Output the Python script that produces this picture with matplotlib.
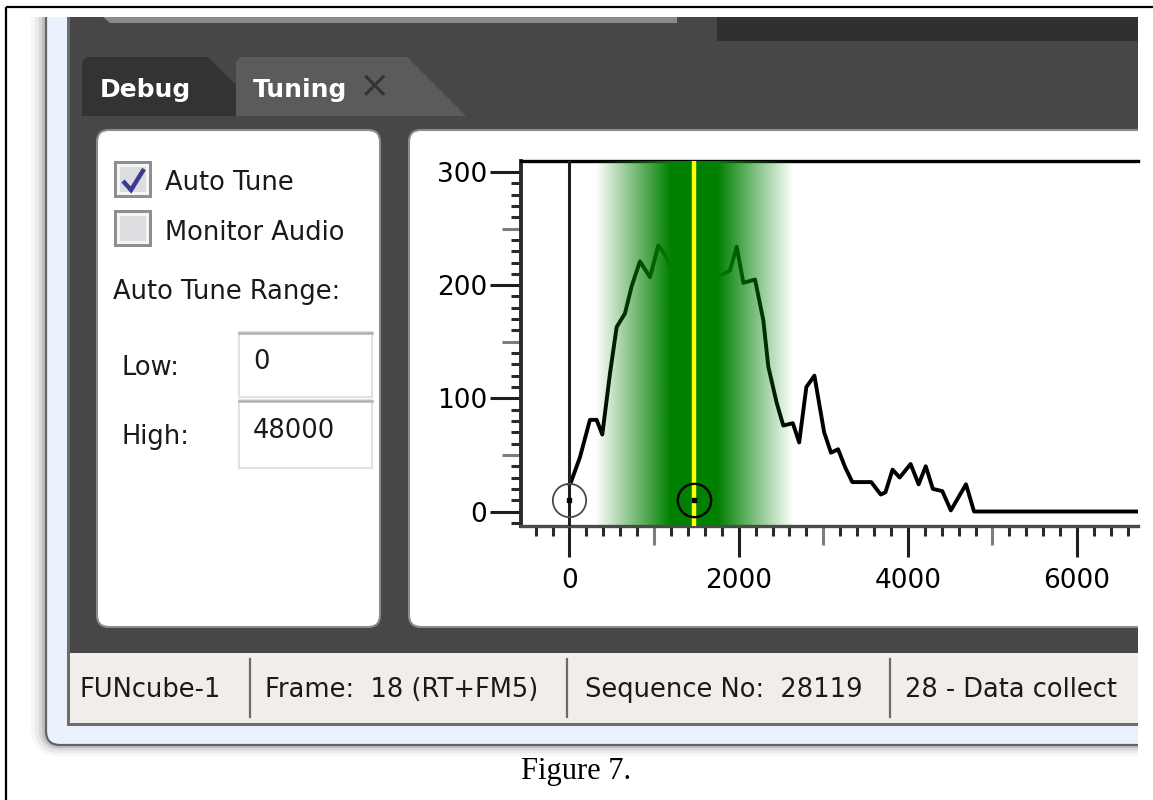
import numpy as np
import matplotlib
matplotlib.use("Agg")
import matplotlib.pyplot as plt
from matplotlib.patches import Rectangle, FancyBboxPatch, Polygon
from matplotlib.ticker import FixedLocator, MultipleLocator, FuncFormatter
from matplotlib.transforms import TransformedBbox, Bbox

# ---------------- data ----------------
freq = [0, 18, 124, 242, 321, 388, 479, 558, 656, 735, 833, 952, 1050, 1129, 1208,
        1300, 1400, 1500, 1600, 1700, 1799, 1897, 1976, 2055, 2193, 2291, 2350, 2449,
        2527, 2640, 2715, 2800, 2895, 3010, 3091, 3175, 3259, 3343, 3567, 3679, 3735,
        3819, 3903, 4032, 4127, 4211, 4295, 4407, 4508, 4687, 4782, 7000]
level = [24, 26, 48, 81, 81, 68, 122, 163, 175, 199, 221, 207, 235, 227, 215,
         222, 228, 224, 216, 210, 209, 213, 234, 202, 205, 169, 128, 96,
         76, 78, 61, 110, 120, 70, 52, 55, 39, 26, 26, 15, 17,
         37, 30, 42, 24, 40, 20, 18, 1, 24, 0, 0]
tune_center = 1475
tune_core = 280
tune_outer = 1170
marker_x = [0, 1475]
marker_y = [10, 10]
x_label_values = [0, 2000, 4000, 6000]
x_tick_labels = ["0", "2000", "4000", "6000"]
x_mid_values = [1000, 3000, 5000]
y_label_values = [0, 100, 200, 300]
y_tick_labels = ["0", "100", "200", "300"]
y_mid_values = [50, 150, 250]
tab_labels = ["Debug", "Tuning"]
check_labels = ["Auto Tune", "Monitor Audio"]
range_title = "Auto Tune Range:"
range_labels = ["Low:", "High:"]
range_values = ["0", "48000"]
status_items = ["FUNcube-1", "Frame:  18 (RT+FM5)", "Sequence No:  28119", "28 - Data collect"]
caption = "Figure 7."

# ---------------- canvas ----------------
W, H = 1153, 800
fig = plt.figure(figsize=(W / 100, H / 100), dpi=100)
fig.patch.set_facecolor("white")
bg = fig.add_axes([0, 0, 1, 1])
bg.set_xlim(0, W)
bg.set_ylim(H, 0)
bg.axis("off")

win_clip = Rectangle((0, 17), 1138, 800, transform=bg.transData, visible=False)
bg.add_patch(win_clip)

# page border
bg.plot([6, W], [7, 7], color="black", lw=1.6, solid_capstyle="butt")
bg.plot([6, 6], [7, H], color="black", lw=1.6, solid_capstyle="butt")

# window shadow
for off, a in [(15, 0.03), (11, 0.05), (7, 0.08), (4, 0.11)]:
    p = FancyBboxPatch((46 - off, -40), 1300, 785 + off * 0.75,
                       boxstyle="round,pad=0,rounding_size=%d" % (14 + off),
                       fc="black", ec="none", alpha=a)
    bg.add_patch(p)
    p.set_clip_path(win_clip)

# window frame
frame = FancyBboxPatch((46, -40), 1300, 785, boxstyle="round,pad=0,rounding_size=14",
                       fc="#e9f2fc", ec="#5e646b", lw=1.6)
bg.add_patch(frame)
frame.set_clip_path(win_clip)

bg.add_patch(Rectangle((67, 17), 1138 - 67, 726 - 17, fc="#6d6d6d", ec="none"))
bg.add_patch(Rectangle((70, 17), 1138 - 70, 653 - 17, fc="#474747", ec="none"))
bg.add_patch(Rectangle((70, 653), 1138 - 70, 723 - 653, fc="#f0edeb", ec="none"))

# top bars
bg.add_patch(Polygon([(103, 17), (677, 17), (677, 23), (110, 23)], closed=True,
                     fc="#898a8d", ec="none"))
bg.add_patch(Rectangle((717, 17), 1138 - 717, 24, fc="#303030", ec="none"))

# tabs
bg.add_patch(Polygon([(82, 116), (82, 62), (87, 57), (208, 57), (240, 89), (240, 116)],
                     closed=True, fc="#333333", ec="none"))
bg.add_patch(Polygon([(236, 116), (236, 62), (241, 57), (407, 57), (466, 116)],
                     closed=True, fc="#5b5b5b", ec="none"))
bg.text(100, 90, tab_labels[0], color="white", fontsize=18, fontweight="bold",
        ha="left", va="center", family="DejaVu Sans")
bg.text(253, 90, tab_labels[1], color="white", fontsize=18, fontweight="bold",
        ha="left", va="center", family="DejaVu Sans")
bg.text(375, 87, "\u00d7", color="#333333", fontsize=27, ha="center", va="center",
        family="DejaVu Sans")

# panels
bg.add_patch(FancyBboxPatch((97, 130), 283, 497, boxstyle="round,pad=0,rounding_size=12",
                            fc="white", ec="#8c8c8c", lw=1.5))
rp = FancyBboxPatch((409, 130), 820, 497, boxstyle="round,pad=0,rounding_size=12",
                    fc="white", ec="#8c8c8c", lw=1.5)
bg.add_patch(rp)
rp.set_clip_path(win_clip)

# checkboxes
for i, yb in enumerate([161, 210]):
    bg.add_patch(Rectangle((114, yb), 38, 37, fc="#8f8f8f", ec="none"))
    bg.add_patch(Rectangle((117, yb + 3), 32, 31, fc="#f6f6f6", ec="none"))
    bg.add_patch(Rectangle((120, yb + 6), 26, 25, fc="#dcdde1", ec="none"))
bg.plot([123, 131, 144], [181, 190, 169], color="#3b3b8f", lw=3.2,
        solid_joinstyle="miter", solid_capstyle="butt")

txt_kw = dict(fontsize=18.5, color="#1a1a1a", ha="left", va="center", family="DejaVu Sans")
bg.text(165, 183, check_labels[0], **txt_kw)
bg.text(165, 233, check_labels[1], **txt_kw)
bg.text(113, 292, range_title, **txt_kw)
bg.text(122, 368, range_labels[0], **txt_kw)
bg.text(122, 437, range_labels[1], **txt_kw)

for yb, yt in [(332, 397), (400, 468)]:
    bg.add_patch(Rectangle((239, yb), 133, yt - yb, fc="white", ec="#dde1e8", lw=1.5))
    bg.plot([239, 372], [yb + 1, yb + 1], color="#b0b0b8", lw=1.8)
bg.text(253, 362, range_values[0], **txt_kw)
bg.text(253, 431, range_values[1], **txt_kw)

# status bar
clipbox = TransformedBbox(Bbox([[0, 0], [1138, H]]), bg.transData)
for sx in [250, 567, 890]:
    bg.plot([sx, sx], [659, 717], color="#6b6b6b", lw=1.6)
for sx, s in zip([80, 265, 585, 905], status_items):
    t = bg.text(sx, 690, s, **txt_kw)
    t.set_clip_box(clipbox)
    t.set_clip_on(True)

# caption
bg.text(576, 772, caption, fontsize=22, family="Liberation Serif", ha="center",
        va="center", color="black")

# ---------------- chart ----------------
ax = fig.add_axes([521 / W, 1 - 526 / H, (1138 - 521) / W, (526 - 161) / H])
x0, x1, y0, y1 = -573, 6720, -12.8, 309.7
ax.set_facecolor("white")
ax.plot(freq, level, color="black", lw=2.8, zorder=2)

xs = np.linspace(x0, x1, 3000)
d = np.abs(xs - tune_center)
alpha = np.clip((tune_outer - d) / (tune_outer - tune_core), 0, 1)
rgba = np.zeros((1, xs.size, 4))
rgba[..., 1] = 128 / 255
rgba[..., 3] = alpha
ax.imshow(rgba, extent=[x0, x1, y0, y1], aspect="auto", zorder=3, interpolation="bilinear")

ax.axvline(tune_center, color="#ffff00", lw=3.2, zorder=4)
ax.axvline(0, color="#1e1e1e", lw=2.2, zorder=4)
ax.plot(marker_x[0], marker_y[0], marker="o", ms=24, mfc="none", mec="#4a4a4a", mew=1.3, zorder=5)
ax.plot(marker_x[1], marker_y[1], marker="o", ms=24, mfc="none", mec="black", mew=1.7, zorder=5)
ax.plot(marker_x, marker_y, "s", ms=3, color="black", zorder=6)

ax.set_xlim(x0, x1)
ax.set_ylim(y0, y1)

ax.spines["right"].set_visible(False)
ax.spines["top"].set_linewidth(2.4)
ax.spines["top"].set_color("black")
ax.spines["left"].set_linewidth(2.8)
ax.spines["left"].set_color("#2a2a2a")
ax.spines["bottom"].set_linewidth(2.4)
ax.spines["bottom"].set_color("#4a4a4a")

x_major = sorted(x_label_values + x_mid_values)
y_major = sorted(y_label_values + y_mid_values)
xlab = dict(zip(x_label_values, x_tick_labels))
ylab = dict(zip(y_label_values, y_tick_labels))
ax.xaxis.set_major_locator(FixedLocator(x_major))
ax.yaxis.set_major_locator(FixedLocator(y_major))
ax.xaxis.set_major_formatter(FuncFormatter(lambda v, p: xlab.get(int(round(v)), "")))
ax.yaxis.set_major_formatter(FuncFormatter(lambda v, p: ylab.get(int(round(v)), "")))
ax.xaxis.set_minor_locator(MultipleLocator(200))
ax.yaxis.set_minor_locator(MultipleLocator(10))
ax.tick_params(which="major", length=22.5, width=2.2, color="#1e1e1e", labelsize=19)
ax.tick_params(which="minor", length=7, width=2.2, color="#2a2a2a")
ax.tick_params(axis="y", which="major", pad=2)
ax.tick_params(axis="x", which="major", pad=8)
for lab in ax.get_xticklabels() + ax.get_yticklabels():
    lab.set_family("DejaVu Sans")

for tick, v in zip(ax.xaxis.get_major_ticks(), x_major):
    if v in x_mid_values:
        tick.tick1line.set_markersize(14)
        tick.tick1line.set_markeredgecolor("#7d7d7d")
for tick, v in zip(ax.yaxis.get_major_ticks(), y_major):
    if v in y_mid_values:
        tick.tick1line.set_markersize(13.5)
        tick.tick1line.set_markeredgecolor("#7d7d7d")

fig.savefig("out.png", dpi=100, facecolor="white")
